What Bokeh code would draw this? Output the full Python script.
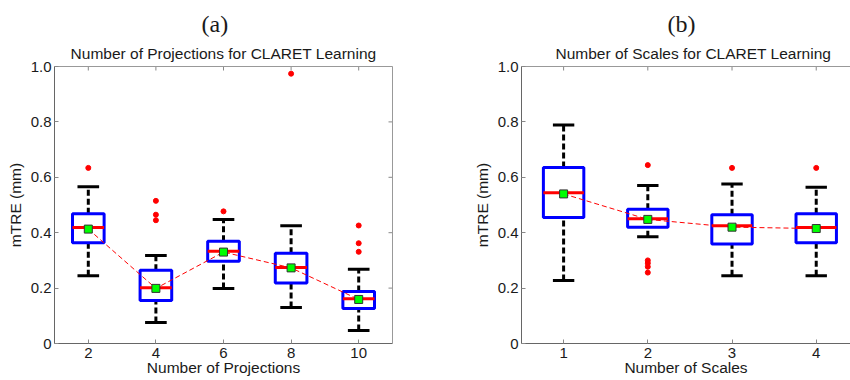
from bokeh.plotting import figure
from bokeh.models import LinearAxis, FixedTicker, Range1d, ColumnDataSource, Title
from bokeh.layouts import row
from bokeh.embed import file_html
from bokeh.resources import INLINE

# ---- data: (a) number of projections ----
proj = [2, 4, 6, 8, 10]
proj_wlo = [0.245, 0.076, 0.199, 0.130, 0.047]
proj_q1 = [0.364, 0.155, 0.297, 0.218, 0.126]
proj_med = [0.419, 0.201, 0.333, 0.274, 0.162]
proj_q3 = [0.468, 0.264, 0.369, 0.326, 0.188]
proj_whi = [0.566, 0.318, 0.448, 0.425, 0.268]
proj_mean = [0.413, 0.199, 0.330, 0.273, 0.159]
proj_out_x = [2, 4, 4, 4, 6, 8, 10, 10, 10]
proj_out_y = [0.634, 0.515, 0.465, 0.445, 0.477, 0.974, 0.426, 0.362, 0.331]

# ---- data: (b) number of scales ----
scales = [1, 2, 3, 4]
sc_wlo = [0.227, 0.385, 0.245, 0.245]
sc_q1 = [0.455, 0.420, 0.359, 0.364]
sc_med = [0.544, 0.450, 0.425, 0.419]
sc_q3 = [0.635, 0.485, 0.465, 0.468]
sc_whi = [0.789, 0.570, 0.576, 0.564]
sc_mean = [0.540, 0.448, 0.420, 0.415]
sc_out_x = [2, 2, 2, 2, 2, 3, 4]
sc_out_y = [0.644, 0.300, 0.290, 0.277, 0.256, 0.634, 0.634]

y_ticks = [0, 0.2, 0.4, 0.6, 0.8, 1.0]
y_tick_labels = ["0", "0.2", "0.4", "0.6", "0.8", "1.0"]

SANS = "Liberation Sans"
SERIF = "Liberation Serif"
TEXT = "#1a1a1a"
TICK = "#888888"
FRAME_H = 380 - 66 - 37


def style_axis(ax, ticks, line_color):
    ax.ticker = FixedTicker(ticks=ticks)
    ax.minor_tick_line_color = None
    ax.major_tick_in = 4
    ax.major_tick_out = 0
    ax.major_tick_line_color = TICK
    ax.axis_line_color = line_color
    ax.axis_line_width = 1
    ax.major_label_text_font = SANS
    ax.major_label_text_color = TEXT
    ax.major_label_text_font_size = "15px"
    ax.major_label_standoff = 3
    ax.axis_label_text_font = SANS
    ax.axis_label_text_font_size = "15.5px"
    ax.axis_label_text_font_style = "normal"
    ax.axis_label_text_color = TEXT


def bare_axis(line_color):
    ax = LinearAxis(ticker=FixedTicker(ticks=[]))
    ax.axis_line_color = line_color
    ax.minor_tick_line_color = None
    ax.major_tick_line_color = None
    ax.major_tick_in = 0
    ax.major_tick_out = 0
    return ax


def make_panel(xs, wlo, q1, med, q3, whi, mean, ox, oy, xr, half_box, half_cap,
               width, border_left, border_right, xlabel, x_ticks, right_axis,
               letter, letter_off, sub, sub_align, sub_off):
    p = figure(width=width, height=380, x_range=Range1d(*xr), y_range=Range1d(0, 1),
               output_backend="svg", toolbar_location=None,
               min_border_left=border_left, min_border_right=border_right,
               min_border_top=66, min_border_bottom=37,
               x_axis_location=None, y_axis_location=None)
    p.grid.visible = False
    p.outline_line_color = None
    p.background_fill_color = "white"
    p.border_fill_color = "white"

    frame_w = width - border_left - border_right
    px_x = frame_w / (xr[1] - xr[0])
    tick_dx = 4 / px_x
    tick_dy = 4 / FRAME_H

    bottom = LinearAxis(axis_label=xlabel)
    style_axis(bottom, x_ticks, "#666666")
    bottom.major_label_standoff = 4
    bottom.axis_label_standoff = -2
    p.add_layout(bottom, "below")
    left = LinearAxis(axis_label="mTRE (mm)")
    style_axis(left, y_ticks, "#666666")
    left.major_label_overrides = dict(zip(y_ticks, y_tick_labels))
    left.axis_label_standoff = 4
    p.add_layout(left, "left")

    # top frame line, closest to the frame
    p.add_layout(bare_axis("#999999"), "above")
    # titles
    p.add_layout(Title(text=sub, align=sub_align, offset=sub_off, text_font=SANS,
                       text_font_size="15.5px", text_font_style="normal",
                       text_color=TEXT, standoff=10), "above")
    p.add_layout(Title(text=letter, align="left", offset=letter_off, text_font=SERIF,
                       text_font_size="24px", text_font_style="normal",
                       text_color=TEXT, standoff=1), "above")

    # inner tick marks on the top edge
    p.segment(x0=x_ticks, y0=[1.0] * len(x_ticks), x1=x_ticks,
              y1=[1.0 - tick_dy] * len(x_ticks), line_color=TICK, line_width=1)
    if right_axis:
        p.add_layout(bare_axis("#999999"), "right")
        p.segment(x0=[xr[1]] * len(y_ticks), y0=y_ticks, x1=[xr[1] - tick_dx] * len(y_ticks),
                  y1=y_ticks, line_color=TICK, line_width=1)

    src = ColumnDataSource(dict(
        x=xs, wlo=wlo, q1=q1, med=med, q3=q3, whi=whi, mean=mean,
        bl=[x - half_box for x in xs], br=[x + half_box for x in xs],
        cl=[x - half_cap for x in xs], cr=[x + half_cap for x in xs]))

    # whiskers
    p.segment(x0="x", y0="q3", x1="x", y1="whi", source=src, line_color="black",
              line_width=3, line_dash="6 3")
    p.segment(x0="x", y0="wlo", x1="x", y1="q1", source=src, line_color="black",
              line_width=3, line_dash="6 3")
    # caps
    p.segment(x0="cl", y0="whi", x1="cr", y1="whi", source=src, line_color="black", line_width=3)
    p.segment(x0="cl", y0="wlo", x1="cr", y1="wlo", source=src, line_color="black", line_width=3)
    # boxes
    p.quad(left="bl", right="br", bottom="q1", top="q3", source=src, fill_color=None,
           line_color="#0000ff", line_width=3)
    # medians
    p.segment(x0="bl", y0="med", x1="br", y1="med", source=src, line_color="#ff0000", line_width=3)
    # mean line and markers
    p.line(x="x", y="mean", source=src, line_color="#ff0000", line_width=1, line_dash="5 3")
    p.scatter(x="x", y="mean", source=src, marker="square", size=8, fill_color="#00ff00",
              line_color="#333333", line_width=1)
    # outliers
    p.scatter(x=ox, y=oy, marker="circle", size=5, fill_color="#ff0000", line_color="#ff0000")
    return p


pa = make_panel(proj, proj_wlo, proj_q1, proj_med, proj_q3, proj_whi, proj_mean,
                proj_out_x, proj_out_y, (1, 11), 0.468, 0.32, 425, 54, 33,
                "Number of Projections", proj, True,
                "(a)", 147, "Number of Projections for CLARET Learning", "center", 0)
pb = make_panel(scales, sc_wlo, sc_q1, sc_med, sc_q3, sc_whi, sc_mean,
                sc_out_x, sc_out_y, (0.5, 4.407), 0.24, 0.127, 425, 96, 0,
                "Number of Scales", scales, False,
                "(b)", 146, "Number of Scales for CLARET Learning", "left", 34)

layout = row(pa, pb, spacing=0)
open("out.html", "w").write(file_html(layout, INLINE))
